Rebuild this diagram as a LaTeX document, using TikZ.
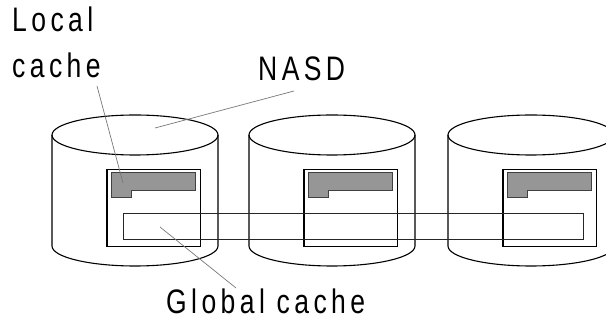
\documentclass[tikz,border=0pt]{standalone}
\usepackage{fontspec}
\setmainfont{Liberation Sans}[FakeStretch=0.78,LetterSpace=13]
\definecolor{cachegray}{RGB}{150,150,150}
\definecolor{leadgray}{RGB}{120,120,120}
\tikzset{
  cyl/.style={draw=black,line width=1.1pt},
  frame/.style={draw=black,line width=1.1pt},
  grect/.style={draw=black!85,line width=1pt},
  cachefill/.style={fill=cachegray,draw=black!75,line width=0.9pt},
  lbl/.style={inner sep=0pt,anchor=base west,font=\fontsize{34}{40}\selectfont},
  leader/.style={draw=leadgray,line width=0.7pt}
}
\begin{document}
\begin{tikzpicture}[x=1pt,y=-1pt]
\useasboundingbox (0,0) rectangle (606,320);
\clip (0,0) rectangle (606,320);
\foreach \c in {135,332,531}{
  \draw[cyl] (\c,135) ellipse [x radius=83, y radius=20];
  \draw[cyl] (\c-83,135) -- (\c-83,246) arc[start angle=180,end angle=0,x radius=83,y radius=20] -- (\c+83,135);
  \draw[frame] (\c-28,169.5) rectangle ++(93.5,77);
  \filldraw[cachefill] (\c-23.3,172.3) -- ++(84,0) -- ++(0,18) -- ++(-64,0) -- ++(0,7) -- ++(-20,0) -- cycle;
}
\draw[grect] (123.3,213.3) rectangle (583.7,240);
\node[lbl] (local) at (12,32) {Local};
\node[lbl] (cache) at (12,78) {cache};
\node[lbl] (nasd) at (258,81) {NASD};
\node[lbl] (global) at (166,314) {Global cache};
\coordinate (lcs) at (97,86);
\coordinate (lce) at (123,183);
\coordinate (ns) at (294,91);
\coordinate (ne) at (155,128);
\coordinate (gs) at (236,288);
\coordinate (ge) at (160,227);
\draw[leader] (lcs) -- (lce);
\draw[leader] (ns) -- (ne);
\draw[leader] (gs) -- (ge);
\end{tikzpicture}
\end{document}
